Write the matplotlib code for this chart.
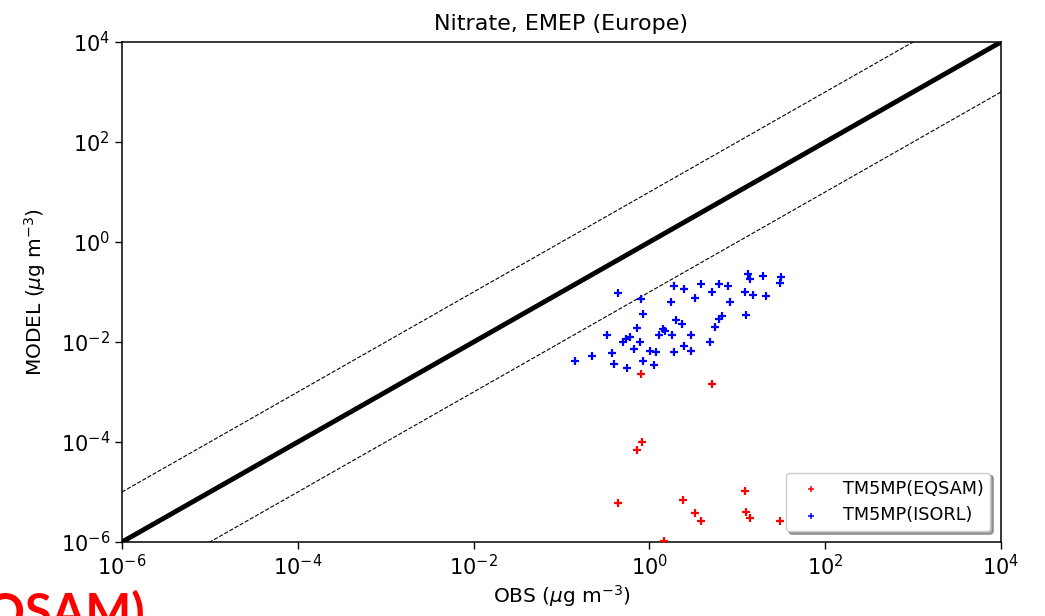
import numpy as np
import matplotlib
matplotlib.use('Agg')
import matplotlib.pyplot as plt

# observed vs modelled nitrate at EMEP sites (ug m-3)
obsISORL = [0.435, 0.81, 0.84, 1.76, 1.92, 2.45, 3.83, 3.28, 5.15, 6.24, 7.83, 8.32, 6.7,
            6.24, 5.57, 4.93, 12.2, 13.3, 13.9, 19.4, 31.2, 30.6, 15.1, 21.4, 12.6, 1.99,
            2.35, 1.44, 1.51, 1.29, 1.82, 2.95, 2.49, 2.95, 1.89, 1.02, 1.19, 1.13, 0.84,
            0.776, 0.718, 0.673, 0.601, 0.546, 0.497, 0.327, 0.372, 0.399, 0.552, 0.221, 0.143]
modISORL = [0.0969, 0.0735, 0.0358, 0.0622, 0.132, 0.115, 0.145, 0.076, 0.1, 0.145, 0.132, 0.064,
            0.0336, 0.0288, 0.0202, 0.01, 0.1, 0.229, 0.179, 0.206, 0.202, 0.149, 0.0883, 0.0843,
            0.0352, 0.0279, 0.0226, 0.0182, 0.0166, 0.0136, 0.014, 0.014, 0.0083, 0.0065, 0.0063,
            0.0067, 0.0063, 0.00347, 0.00411, 0.00986, 0.0188, 0.00714, 0.0124, 0.0116, 0.01,
            0.0138, 0.00603, 0.00368, 0.00306, 0.00532, 0.00417]
obsEQSAM = [0.81, 5.15, 0.83, 0.718, 0.435, 2.43, 3.3, 3.83, 12.2, 12.6, 13.9, 30.6, 1.48]
modEQSAM = [0.00232, 0.00145, 9.86e-5, 6.92e-5, 6.03e-6, 6.82e-6, 3.86e-6, 2.63e-6, 1.05e-5,
            3.98e-6, 3.02e-6, 2.63e-6, 1.05e-6]
limits = [1e-6, 1e4]
tickExp = np.arange(-6, 5, 2)

fig = plt.figure(figsize=(10.45, 6.16), dpi=100)
ax = fig.add_axes([0.1167, 0.1201, 0.8412, 0.8117])

lim = np.array(limits)
ax.plot(lim, lim, color='black', lw=3.5, zorder=1)
ax.plot(lim, lim * 10, color='black', lw=0.8, ls='--', zorder=1)
ax.plot(lim, lim / 10, color='black', lw=0.8, ls='--', zorder=1)

ax.scatter(obsEQSAM, modEQSAM, marker='+', s=32, linewidths=1.6, color='red',
           label='TM5MP(EQSAM)', zorder=3)
ax.scatter(obsISORL, modISORL, marker='+', s=32, linewidths=1.6, color='blue',
           label='TM5MP(ISORL)', zorder=3)

ax.set_xscale('log')
ax.set_yscale('log')
ax.set_xlim(limits)
ax.set_ylim(limits)
ax.set_xticks(10.0 ** tickExp)
ax.set_yticks(10.0 ** tickExp)
ax.minorticks_off()
ax.tick_params(labelsize=15, length=5, width=1)
for sp in ax.spines.values():
    sp.set_linewidth(1.1)

ax.set_title('Nitrate, EMEP (Europe)', fontsize=16, pad=9)
ax.set_xlabel(r'OBS ($\mu$g m$^{-3}$)', fontsize=14.5, labelpad=3)
ax.set_ylabel(r'MODEL ($\mu$g m$^{-3}$)', fontsize=14.5, labelpad=9)
leg = ax.legend(loc='lower right', shadow=True, fontsize=12.7, markerscale=0.75,
                scatterpoints=1, borderaxespad=0.6)
for h in leg.legend_handles:
    h.set_linewidths(1.1)

fig.text(0.139, 1 - 590 / 616, 'TM5MP(EQSAM)', color='red', fontsize=35, fontweight='bold',
         family='Lato', ha='right', va='top')

fig.savefig('out.png', dpi=100)
